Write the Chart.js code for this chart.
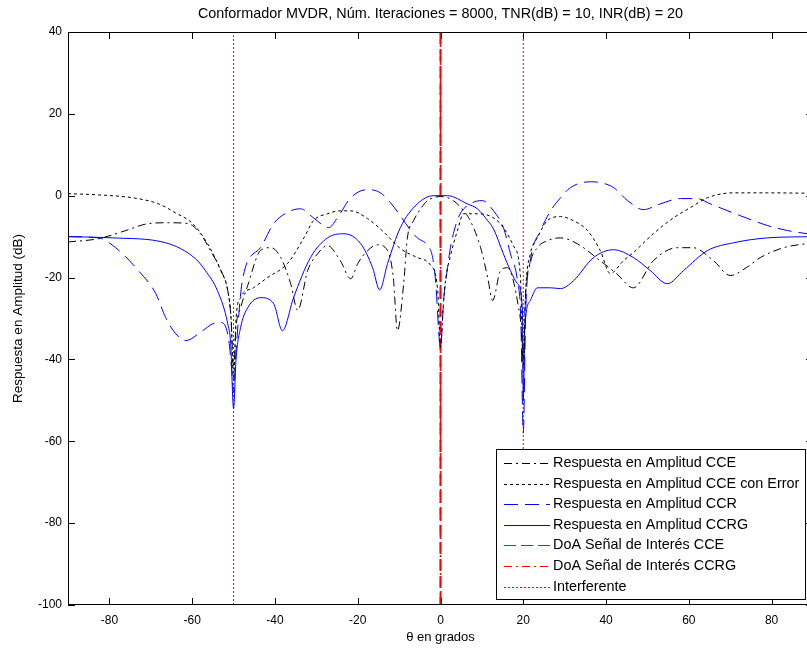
<!DOCTYPE html>
<html>
<head>
<meta charset="utf-8">
<script src="https://cdn.jsdelivr.net/npm/chart.js@4.4.1/dist/chart.umd.min.js"></script>
<style>
  html, body { margin: 0; padding: 0; background: #fff; overflow: hidden; }
  canvas { display: block; }
</style>
</head>
<body>
<canvas id="grafico" width="813" height="650"></canvas>
<script>
// ángulos (grados) y respuesta (dB)
const anguloCCE = [-90, -82.6, -76, -70.5, -65.7, -61, -58, -55.6, -53, -51.4, -50.6, -50, -49.4, -48.3, -46.6, -43.5, -41, -38.6, -36.2, -34.5, -32.1, -29.7, -27.3, -24.2, -21.7, -20, -17.6, -15.2, -12.8, -11.4, -10.4, -8.9, -8, -6.5, -4.8, -3.1, 0, 3.1, 5.6, 7.2, 9.7, 11.4, 12.6, 14.5, 16.2, 17.6, 18.8, 19.5, 20, 20.5, 21.7, 23.4, 25.8, 29, 33, 38.6, 42.5, 46.6, 51.4, 57.2, 61, 66, 70, 74, 77.3, 82.9, 90];
const dbCCE = [-11.3, -10.5, -8.5, -6.8, -6.6, -6.8, -9.3, -13.4, -18.3, -23.2, -30, -42, -32, -27.4, -22, -13.4, -12.7, -15.1, -21.5, -28, -18.3, -14.2, -12.2, -15.9, -20.3, -16.6, -13.4, -12, -13.4, -20, -33, -21.5, -10.3, -6.1, -3.2, -1.2, -0.2, -1.2, -3.7, -6.1, -12.7, -20, -25.6, -18.3, -17.6, -20.8, -27, -32, -40, -25, -16.4, -12.7, -11, -10.3, -11.7, -15.9, -19, -22.5, -15.9, -12.7, -12.7, -15.9, -19.5, -17.5, -15.1, -12.7, -11.5];

const anguloCCEerr = [-90, -82.6, -74.4, -68.1, -64, -59.9, -56.3, -53.1, -51.4, -50.6, -50, -49.4, -48.3, -45.2, -41.8, -37, -33, -30.7, -27.3, -24.2, -21.7, -17.6, -13.8, -9.7, -5.6, -2.4, -0.7, 0, 0.6, 1.2, 2.4, 4.1, 5.6, 8.9, 12.8, 15.2, 17.6, 19.3, 20, 20.6, 21.7, 23.4, 25.8, 29, 32.1, 35.5, 38.6, 41, 44.2, 46.6, 51.4, 56.3, 60.4, 64.5, 70.8, 79, 90];
const dbCCEerr = [0.5, 0.2, -0.5, -2, -4.2, -6.8, -11.7, -18.3, -23.2, -30, -45, -30, -24.9, -22.5, -20, -16.6, -10.3, -6.1, -4.4, -3.7, -3.7, -5.6, -8.8, -12.9, -15.1, -17, -23, -37, -28, -20.8, -14.7, -8.5, -4.4, -4.4, -5.4, -7.8, -12.2, -19.5, -42, -23, -14.2, -10.3, -6.1, -5.1, -6.1, -8.5, -13.4, -19, -15.9, -13.9, -9.3, -5.4, -2.9, -0.5, 0.7, 0.7, 0.6];

const anguloCCR = [-90, -82.6, -78.5, -73, -68.8, -66.4, -64, -61.6, -57.5, -55, -53, -51.2, -50.5, -50, -49.4, -47.8, -43.5, -40.3, -36.2, -33.8, -30.7, -27, -24.9, -21.7, -17.6, -14.5, -12.1, -9.7, -7.2, -5.6, -3.1, -1.9, -1.2, 0, 0.8, 1.7, 2.4, 4.3, 7.2, 10.1, 12.8, 15.2, 16.9, 18.6, 19.4, 20, 20.6, 21.7, 24.2, 26.6, 29, 31.4, 36.2, 38.6, 41.8, 45.2, 49, 53.1, 58, 62, 65.2, 72.5, 79, 83.8, 90];
const dbCCR = [-10, -10.3, -12.7, -18.3, -23.9, -29.8, -33.7, -35.4, -33, -31.3, -31, -35, -42, -48, -38, -20.3, -12.7, -6.8, -3.7, -3.2, -5.4, -7.8, -5.4, -0.5, 1.5, 0.7, -1.7, -4.9, -8.5, -10.3, -12.2, -15.1, -20.8, -37, -25, -17.6, -12.7, -5.4, -2, -1.2, -3.7, -7.8, -14.2, -20.8, -30, -58, -28, -15.9, -8.5, -3.7, -0.5, 2, 3.4, 3.2, 2, -1.2, -3.4, -2, -0.7, -0.7, -2, -4.9, -7.3, -8.5, -9.5];

const anguloCCRG = [-90, -79.2, -66.4, -59.2, -56.8, -53.9, -51.4, -50.7, -50, -49.4, -48.3, -46.6, -43.5, -40.3, -38.2, -35.5, -31.4, -27.3, -23.4, -19.3, -16.4, -14.7, -12.8, -9.7, -5.6, -1.7, 1.7, 6.5, 8.9, 11.4, 12.8, 15.2, 16.9, 18.6, 19.8, 20, 20.4, 21.7, 23.4, 26.6, 29, 32.1, 37, 41.8, 46.6, 50.7, 54.8, 58.7, 64.5, 70.8, 79, 90];
const dbCCRG = [-10, -10.3, -11.5, -15.4, -18.3, -23.2, -31.3, -36.1, -52, -40, -32.2, -27.4, -24.9, -26.4, -33, -24.9, -15.1, -10.3, -9.3, -11.7, -17.6, -23, -16.6, -7.8, -2, 0, 0, -2, -3.2, -6.1, -8.1, -14.2, -18.3, -21.5, -28, -50, -32, -25.6, -22.5, -22.5, -22.7, -20.8, -15.1, -13.2, -15.1, -18.3, -21.5, -18.3, -13.4, -11.5, -10.3, -10];

// direcciones de llegada
const doaSenal = 0;
const doaInterferentes = [-50, 20];

const ticksX = [-80, -60, -40, -20, 0, 20, 40, 60, 80];
const ticksY = [-100, -80, -60, -40, -20, 0, 20, 40];

const titulo = 'Conformador MVDR, Núm. Iteraciones = 8000, TNR(dB) = 10, INR(dB) = 20';
const fuente = '"Liberation Sans", Arial, sans-serif';

function puntos(xs, ys) {
  return xs.map((x, i) => ({ x: x, y: ys[i] }));
}

// línea vertical de -100 a 40 dB
function vertical(x) {
  return [{ x: x, y: -100 }, { x: x, y: 40 }];
}

const datosInterf = [];
doaInterferentes.forEach((a, i) => {
  if (i > 0) datosInterf.push({ x: a, y: null });
  datosInterf.push(...vertical(a));
});

// marco estilo matlab con ticks hacia dentro + título centrado sobre los ejes
const marco = {
  id: 'marco',
  afterDatasetsDraw(chart) {
    const ctx = chart.ctx, a = chart.chartArea;
    const sx = chart.scales.x, sy = chart.scales.y;
    ctx.save();
    ctx.strokeStyle = '#000';
    ctx.lineWidth = 1;
    ctx.setLineDash([]);
    ctx.strokeRect(a.left + 0.5, a.top + 0.5, a.right - a.left - 1, a.bottom - a.top - 1);
    ctx.beginPath();
    ticksX.forEach(v => {
      const p = Math.round(sx.getPixelForValue(v)) + 0.5;
      ctx.moveTo(p, a.bottom); ctx.lineTo(p, a.bottom - 7);
      ctx.moveTo(p, a.top); ctx.lineTo(p, a.top + 7);
    });
    ticksY.forEach(v => {
      const p = Math.round(sy.getPixelForValue(v)) + 0.5;
      ctx.moveTo(a.left, p); ctx.lineTo(a.left + 7, p);
      ctx.moveTo(a.right, p); ctx.lineTo(a.right - 7, p);
    });
    ctx.stroke();

    ctx.fillStyle = '#000';
    ctx.font = '14.4px ' + fuente;
    ctx.textAlign = 'center';
    ctx.textBaseline = 'middle';
    ctx.fillText(titulo, (a.left + a.right) / 2, 14);
    ctx.restore();
  }
};

// leyenda en la esquina inferior derecha
const leyenda = {
  id: 'leyenda',
  afterDatasetsDraw(chart) {
    const ctx = chart.ctx;
    const x0 = 496, y0 = 449, w = 309, h = 150;
    ctx.save();
    ctx.fillStyle = '#fff';
    ctx.fillRect(x0, y0, w, h);
    ctx.strokeStyle = '#000';
    ctx.lineWidth = 1;
    ctx.strokeRect(x0 + 0.5, y0 + 0.5, w, h);
    ctx.font = '14.4px ' + fuente;
    ctx.textBaseline = 'middle';
    chart.data.datasets.forEach((ds, i) => {
      const yy = Math.round(y0 + 14 + i * 20.6) + 0.5;
      ctx.strokeStyle = ds.borderColor;
      ctx.lineWidth = 1;
      ctx.setLineDash(ds.borderDash || []);
      ctx.beginPath();
      ctx.moveTo(x0 + 8, yy);
      ctx.lineTo(x0 + 54, yy);
      ctx.stroke();
      ctx.setLineDash([]);
      ctx.fillStyle = '#000';
      ctx.fillText(ds.label, x0 + 57, yy);
    });
    ctx.restore();
  }
};

const curva = {
  pointRadius: 0,
  borderWidth: 1,
  fill: false,
  cubicInterpolationMode: 'monotone'
};
const recta = {
  pointRadius: 0,
  fill: false,
  tension: 0,
  spanGaps: false
};

new Chart(document.getElementById('grafico'), {
  type: 'line',
  data: {
    datasets: [
      Object.assign({ label: 'Respuesta en Amplitud CCE', data: puntos(anguloCCE, dbCCE), borderColor: '#000000', borderDash: [8, 4, 2, 4] }, curva),
      Object.assign({ label: 'Respuesta en Amplitud CCE con Error', data: puntos(anguloCCEerr, dbCCEerr), borderColor: '#000000', borderDash: [3, 3] }, curva),
      Object.assign({ label: 'Respuesta en Amplitud CCR', data: puntos(anguloCCR, dbCCR), borderColor: '#0000ff', borderDash: [14, 7] }, curva),
      Object.assign({ label: 'Respuesta en Amplitud CCRG', data: puntos(anguloCCRG, dbCCRG), borderColor: '#0000ff', borderDash: [] }, curva),
      Object.assign({ label: 'DoA Señal de Interés CCE', data: vertical(doaSenal), borderColor: '#ff0000', borderWidth: 2, borderDash: [12, 5] }, recta),
      Object.assign({ label: 'DoA Señal de Interés CCRG', data: vertical(doaSenal), borderColor: '#ff0000', borderWidth: 1.5, borderDash: [8, 4, 2, 4] }, recta),
      Object.assign({ label: 'Interferente', data: datosInterf, borderColor: '#ff0000', borderWidth: 1, borderDash: [2, 2] }, recta)
    ]
  },
  options: {
    responsive: false,
    animation: false,
    layout: { padding: { top: 32 } },
    plugins: {
      legend: { display: false },
      tooltip: { enabled: false },
      title: { display: false }
    },
    scales: {
      x: {
        type: 'linear',
        min: -90,
        max: 90,
        grid: { display: false, drawTicks: false },
        border: { display: false },
        afterBuildTicks: s => { s.ticks = ticksX.map(v => ({ value: v })); },
        afterFit: s => { s.height = 45; },
        ticks: { color: '#000', padding: 8, maxRotation: 0, font: { family: fuente, size: 12 } },
        title: { display: true, text: 'θ en grados', color: '#000', font: { family: fuente, size: 13 }, padding: { top: 0, bottom: 5 } }
      },
      y: {
        type: 'linear',
        min: -100,
        max: 40,
        grid: { display: false, drawTicks: false },
        border: { display: false },
        afterBuildTicks: s => { s.ticks = ticksY.map(v => ({ value: v })); },
        afterFit: s => { s.width = 68; },
        ticks: { color: '#000', padding: 6, font: { family: fuente, size: 12 } },
        title: { display: true, text: 'Respuesta en Amplitud (dB)', color: '#000', font: { family: fuente, size: 13.5 }, padding: { top: 10, bottom: 0 } }
      }
    }
  },
  plugins: [marco, leyenda]
});
</script>
</body>
</html>
